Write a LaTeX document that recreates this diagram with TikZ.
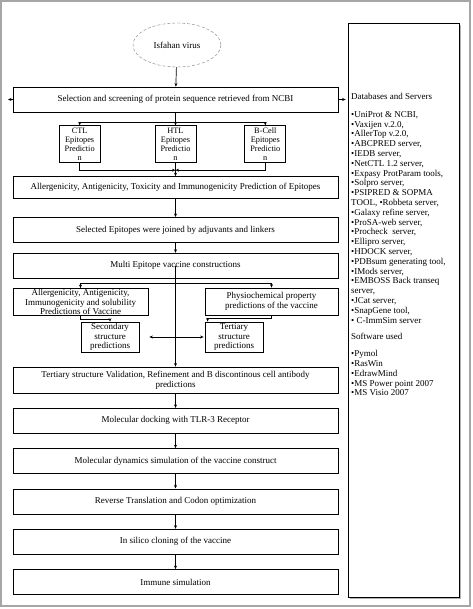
\documentclass[tikz,border=0pt]{standalone}
\usepackage{fontspec}
\setmainfont{Liberation Serif}
\usepackage{tikz}
\usetikzlibrary{arrows.meta,positioning,shapes.geometric,shadows}
\tikzset{
  mainbox/.style={draw, line width=0.8pt, minimum width=325pt, minimum height=25pt, align=center, inner sep=1pt, font=\fontsize{9}{10}\selectfont},
  subbox/.style={draw, line width=0.8pt, minimum width=41pt, minimum height=37pt, align=center, inner sep=0pt, font=\fontsize{8.3}{8.8}\selectfont},
  midbox/.style={draw, line width=0.8pt, align=center, inner sep=0pt, font=\fontsize{9}{9.5}\selectfont},
  dbbox/.style={draw, line width=0.8pt, fill=white, minimum width=111pt, minimum height=574pt, drop shadow={shadow xshift=2pt, shadow yshift=-2pt, fill=gray!60, opacity=1}},
  line/.style={-{Stealth[length=3.5pt,width=3pt]}, line width=0.7pt}
}

\begin{document}
\begin{tikzpicture}[x=1pt, y=-1pt, node distance=14.5pt]
  \useasboundingbox (0,0) rectangle (472,609);
  \draw[gray!70, line width=2pt] (1,1) rectangle (470,606);

  % right column
  \node[dbbox] (db) at (403.5,310) {};
  \node[anchor=north west, align=left, inner sep=0pt, font=\fontsize{9}{9.8}\selectfont] (dblist) at (351,93)
    {Databases and Servers\\[8pt]
     •UniProt \& NCBI,\\
     •Vaxijen v.2.0,\\
     •AllerTop v.2.0,\\
     •ABCPRED server,\\
     •IEDB server,\\
     •NetCTL 1.2 server,\\
     •Expasy ProtParam tools,\\
     •Solpro server,\\
     •PSIPRED \& SOPMA\\
     TOOL, •Robbeta server,\\
     •Galaxy refine server,\\
     •ProSA-web server,\\
     •Procheck\ \ server,\\
     •Ellipro server,\\
     •HDOCK server,\\
     •PDBsum generating tool,\\
     •IMods server,\\
     •EMBOSS Back transeq\\
     server,\\
     •JCat server,\\
     •SnapGene tool,\\
     • C-ImmSim server\\[7pt]
     Software used\\[7pt]
     •Pymol\\
     •RasWin\\
     •EdrawMind\\
     •MS Power point 2007\\
     •MS Visio 2007};

  % main column
  \node[ellipse, draw=gray, densely dashed, minimum width=88pt, minimum height=44pt, font=\fontsize{9}{10}\selectfont] (virus) at (177,45) {Isfahan virus};
  \node[mainbox] (sel) at (175.5,99.5) {Selection and screening of protein sequence retrieved from NCBI};
  \node[subbox, below=13pt of sel] (htl) {HTL\\Epitopes\\Predictio\\n};
  \node[subbox, left=54pt of htl] (ctl) {CTL\\Epitopes\\Predictio\\n};
  \node[subbox, right=48pt of htl] (bcell) {B-Cell\\Epitopes\\Predictio\\n};
  \node[mainbox, minimum height=22pt, below=13pt of htl.south -| sel.south] (aep) {Allergenicity, Antigenicity, Toxicity and Immunogenicity Prediction of Epitopes};
  \node[mainbox, below=18pt of aep] (join2) {Selected Epitopes were joined by adjuvants and linkers};
  \node[mainbox, below=10pt of join2] (multi) {Multi Epitope vaccine constructions};

  \node[midbox, minimum width=135pt, minimum height=27pt] (allv) at (80.5,302) {Allergenicity, Antigenicity,\\Immunogenicity and solubility\\Predictions of Vaccine};
  \node[midbox, minimum width=133pt, minimum height=27pt] (phys) at (271.5,301.5) {Physiochemical property\\predictions of the vaccine};
  \node[midbox, minimum width=58pt, minimum height=30pt] (sec) at (110,337) {Secondary\\structure\\predictions};
  \node[midbox, minimum width=58pt, minimum height=30pt] (tert) at (234,337) {Tertiary\\structure\\predictions};

  \node[mainbox, minimum height=26pt] (tval) at (175.5,380) {Tertiary structure Validation, Refinement and B discontinous cell antibody\\predictions};
  \node[mainbox, below=of tval] (dock) {Molecular docking with TLR-3 Receptor};
  \node[mainbox, below=of dock] (dyn) {Molecular dynamics simulation of the vaccine construct};
  \node[mainbox, below=of dyn] (rev) {Reverse Translation and Codon optimization};
  \node[mainbox, below=of rev] (clon) {In silico cloning of the vaccine};
  \node[mainbox, below=of clon] (imm) {Immune simulation};

  \coordinate (lefttip) at (8,99.5);
  \coordinate (split) at ([yshift=-10pt]sel.south);
  \coordinate (join) at ([yshift=-7pt]htl.south);
  \coordinate (split2) at ([yshift=-5pt]multi.south);
  \coordinate (hub) at (sec.east -| multi.center);

  \draw[line] (virus) -- (sel);
  \draw[line] (sel.west) -- (lefttip);
  \draw[line, shorten >=2pt] (sel.east) -- (sel.east -| db.west);
  \draw[line] (sel.south) -- (htl.north);
  \draw[line] (split) -| (ctl.north);
  \draw[line] (split) -| (bcell.north);
  \draw[line] (ctl.south) |- (join);
  \draw[line] (bcell.south) |- (join);
  \draw[line] (htl.south) -- (aep.north);
  \draw[line] (aep) -- (join2);
  \draw[line] (join2) -- (multi);
  \draw[line] (multi.center) -- (tval.north);
  \draw[line] (split2) -| (allv.north);
  \draw[line] (split2) -| (phys.north);
  \draw[line] (allv.south) -- ++(0,3) -| (sec.north);
  \draw[line] (phys.south) -- ++(0,3) -| ([xshift=3pt]tert.north west);
  \draw[line, shorten >=10pt] (hub) -- (sec.east);
  \draw[line, shorten >=1pt] (hub) -- (tert.west);
  \draw[line] (tval) -- (dock);
  \draw[line] (dock) -- (dyn);
  \draw[line] (dyn) -- (rev);
  \draw[line] (rev) -- (clon);
  \draw[line] (clon) -- (imm);
\end{tikzpicture}
\end{document}
